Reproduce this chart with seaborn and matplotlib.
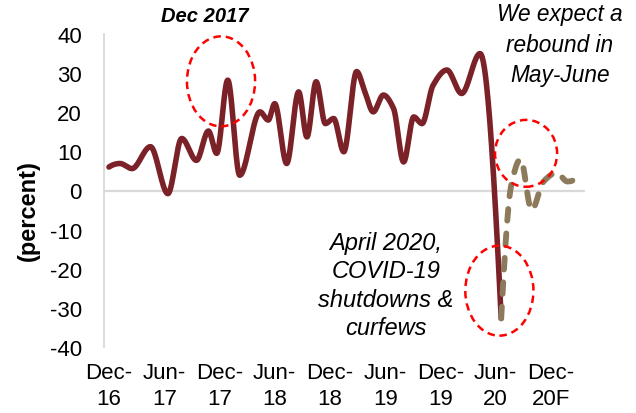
import numpy as np
import pandas as pd
import matplotlib
matplotlib.use("Agg")
import matplotlib.pyplot as plt
from matplotlib.patches import Ellipse
import seaborn as sns

# Month offsets counted from Dec-2016, with the year-over-year change in percent
actual_month = [0.0, 1.2, 2.5, 4.5, 6.4, 7.9, 9.5, 10.8, 11.7, 12.9, 14.2, 16.4,
                17.3, 18.0, 19.3, 20.6, 21.5, 22.5, 23.5, 24.4, 25.5, 26.9, 27.8,
                28.7, 29.8, 30.9, 32.0, 33.1, 34.0, 35.2, 36.7, 38.3, 40.3, 42.6]
actual_pct = [6.0, 6.9, 5.6, 11.2, -0.8, 13.3, 7.7, 15.2, 9.5, 28.2, 3.9, 20.1,
              18.0, 22.2, 6.9, 25.2, 13.7, 27.8, 17.1, 18.4, 9.9, 30.4, 25.2,
              20.1, 24.4, 21.0, 7.3, 18.8, 17.1, 26.9, 30.8, 24.8, 35.0, -32.7]

forecast_month = [42.6, 43.7, 44.7, 45.9, 47.2, 48.6, 49.8, 51.1]
forecast_pct = [-32.7, 1.5, 8.0, -5.0, 2.3, 4.5, 2.3, 3.9]

tick_month = [0, 6, 12, 18, 24, 30, 36, 42, 48]
tick_labels = ["Dec-\n16", "Jun-\n17", "Dec-\n17", "Jun-\n18", "Dec-\n18",
               "Jun-\n19", "Dec-\n19", "Jun-\n20", "Dec-\n20F"]
y_ticks = [-40, -30, -20, -10, 0, 10, 20, 30, 40]


def smooth_curve(xs, ys, n=40):
    """Monotone cubic (Fritsch-Carlson) curve through the given points."""
    x = np.asarray(xs, float)
    y = np.asarray(ys, float)
    h = np.diff(x)
    d = np.diff(y) / h
    m = np.zeros_like(y)
    for k in range(1, len(x) - 1):
        if d[k - 1] * d[k] > 0:
            w1 = 2 * h[k] + h[k - 1]
            w2 = h[k] + 2 * h[k - 1]
            m[k] = (w1 + w2) / (w1 / d[k - 1] + w2 / d[k])

    def end_slope(h0, h1, d0, d1):
        s = ((2 * h0 + h1) * d0 - h0 * d1) / (h0 + h1)
        if np.sign(s) != np.sign(d0):
            return 0.0
        if np.sign(d0) != np.sign(d1) and abs(s) > abs(3 * d0):
            return 3 * d0
        return s

    m[0] = end_slope(h[0], h[1], d[0], d[1])
    m[-1] = end_slope(h[-1], h[-2], d[-1], d[-2])
    out_x, out_y = [], []
    for k in range(len(x) - 1):
        t = np.linspace(0, 1, n, endpoint=(k == len(x) - 2))
        h00 = 2 * t**3 - 3 * t**2 + 1
        h10 = t**3 - 2 * t**2 + t
        h01 = -2 * t**3 + 3 * t**2
        h11 = t**3 - t**2
        out_x.append(x[k] + t * h[k])
        out_y.append(h00 * y[k] + h10 * h[k] * m[k] + h01 * y[k + 1] + h11 * h[k] * m[k + 1])
    return np.concatenate(out_x), np.concatenate(out_y)


sx, sy = smooth_curve(actual_month, actual_pct)
fx, fy = smooth_curve(forecast_month, forecast_pct)
actual_df = pd.DataFrame({"month": sx, "pct": sy})
forecast_df = pd.DataFrame({"month": fx, "pct": fy})

sns.set_theme(style="white")
plt.rcParams["font.family"] = ["Liberation Sans", "DejaVu Sans"]
plt.rcParams["text.color"] = "black"
plt.rcParams["xtick.color"] = "black"
plt.rcParams["ytick.color"] = "black"

fig = plt.figure(figsize=(6.36, 4.14), dpi=100)
ax = fig.add_axes([104 / 636, 1 - 348 / 414, 481 / 636, 313 / 414])

ax.axhline(0, color="#D9D9D9", lw=1.6, zorder=1)

sns.lineplot(data=actual_df, x="month", y="pct", sort=False, estimator=None,
             color="#7B2128", lw=4.0, ax=ax, zorder=3)
ax.lines[-1].set_solid_capstyle("round")
ax.lines[-1].set_solid_joinstyle("round")

sns.lineplot(data=forecast_df, x="month", y="pct", sort=False, estimator=None,
             color="#8C7A5B", lw=4.2, ax=ax, zorder=4)
ax.lines[-1].set_linestyle((0, (2.0, 2.2)))
ax.lines[-1].set_dash_capstyle("round")

ax.set_xlim(-0.54, 51.7)
ax.set_ylim(-40, 40)
ax.set_xticks(tick_month)
ax.set_xticklabels(tick_labels)
ax.set_yticks(y_ticks)
ax.set_yticklabels([str(v) for v in y_ticks])
ax.tick_params(axis="both", length=0, labelsize=16, labelcolor="black")
ax.tick_params(axis="x", pad=11)
ax.tick_params(axis="y", pad=16)
for lbl in ax.get_xticklabels():
    lbl.set_linespacing(1.32)
ax.set_xlabel("")
ax.set_ylabel("")

for side in ("top", "right", "bottom"):
    ax.spines[side].set_visible(False)
ax.spines["left"].set_color("#D9D9D9")
ax.spines["left"].set_linewidth(1.3)

# Highlight rings
for (cx, cy, w, h) in [(12.17, 27.9, 7.4, 23.0), (45.3, 9.5, 6.74, 17.1), (42.4, -25.6, 7.4, 23.0)]:
    ax.add_patch(Ellipse((cx, cy), w, h, fill=False, ec="#FF0000", lw=1.8,
                         ls=(0, (3, 2)), zorder=5, clip_on=False))

fig.text(28 / 636, 1 - 211 / 414, "(percent)", rotation=90, ha="center", va="center",
         fontsize=17, fontweight="bold", color="black")
fig.text(205 / 636, 1 - 16 / 414, "Dec 2017", ha="center", va="center",
         fontsize=14.5, fontweight="bold", style="italic", color="black")
fig.text(560 / 636, 1 - 45 / 414, "We expect a\nrebound in\nMay-June", ha="center",
         va="center", fontsize=16.3, style="italic", linespacing=1.4, color="black")
fig.text(386 / 636, 1 - 286 / 414, "April 2020,\nCOVID-19\nshutdowns &\ncurfews",
         ha="center", va="center", fontsize=17, style="italic", linespacing=1.28,
         color="black")

fig.savefig("out.png", dpi=100)
